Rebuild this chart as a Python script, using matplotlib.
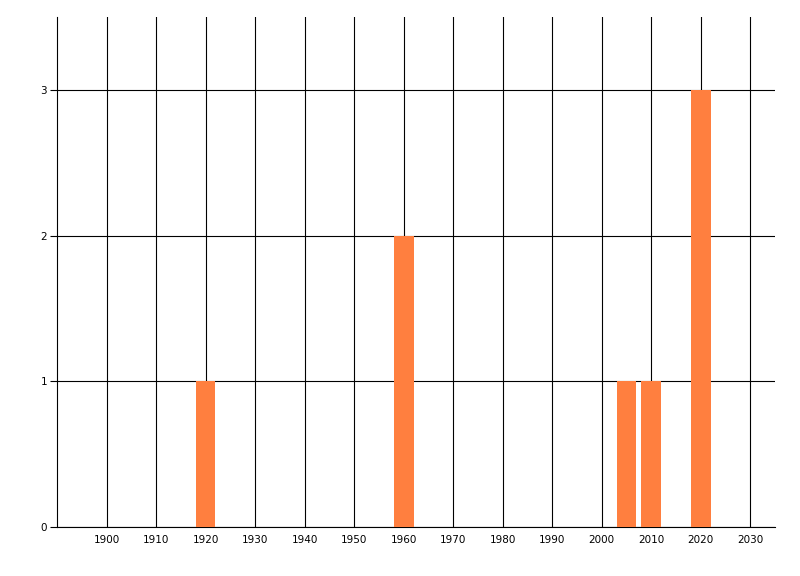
import matplotlib
matplotlib.use("Agg")
import matplotlib.pyplot as plt

years = [1920, 1960, 2005, 2010, 2020]
counts = [1, 2, 1, 1, 3]
xticks = list(range(1900, 2031, 10))
yticks = [0, 1, 2, 3]

fig = plt.figure(figsize=(8, 5.76), dpi=100)
ax = fig.add_axes([57/800, 1-527/576, (775-57)/800, (527-17)/576])
ax.bar(years, counts, width=4, color="#FF7F3F", zorder=3)
ax.set_xlim(1890, 2035)
ax.set_ylim(0, 3.5)
ax.set_xticks(xticks)
ax.set_yticks(yticks)
ax.set_xticklabels([str(t) for t in xticks], fontsize=7.5)
ax.set_yticklabels([str(t) for t in yticks], fontsize=7.5)
ax.grid(True, color="black", linewidth=0.8, zorder=1)
ax.set_axisbelow(True)
for s in ["top", "right"]:
    ax.spines[s].set_visible(False)
for s in ["left", "bottom"]:
    ax.spines[s].set_linewidth(0.8)
ax.tick_params(axis="x", length=0, pad=6)
ax.tick_params(axis="y", length=5, width=0.8, pad=2)
fig.savefig("out.png", dpi=100)
